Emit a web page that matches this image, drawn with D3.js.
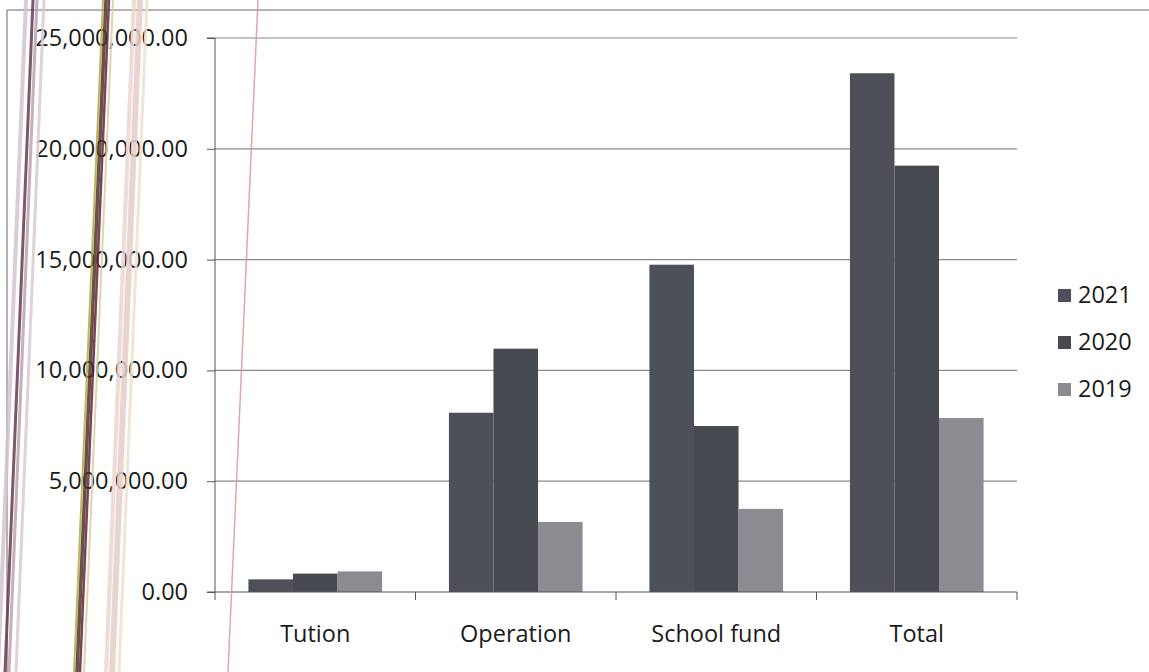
<!DOCTYPE html>
<html><head><meta charset="utf-8">
<script src="https://cdn.jsdelivr.net/npm/d3@7"></script>
<style>html,body{margin:0;padding:0;background:#fff;}svg{display:block;}</style>
</head><body>
<svg id="c" width="1149" height="672"></svg>
<script>
const categories = ["Tution", "Operation", "School fund", "Total"];
const series = ["2021", "2020", "2019"];
const values2021 = [570000, 8090000, 14770000, 23410000];
const values2020 = [830000, 10980000, 7490000, 19240000];
const values2019 = [930000, 3160000, 3750000, 7850000];
const yTicks = [0, 5000000, 10000000, 15000000, 20000000, 25000000];
const colors = ["#4d5058", "#474950", "#8b8c91"];

const svg = d3.select("#c");
const font = "'Open Sans', sans-serif";
const fs = 23.5;
const L = 215, R = 1017, T = 38, B = 592;

// scan frame
svg.append("line").attr("x1",7).attr("x2",1149).attr("y1",10).attr("y2",10).attr("stroke","#666").attr("stroke-width",1);
svg.append("line").attr("x1",7).attr("x2",7).attr("y1",10).attr("y2",672).attr("stroke","#666").attr("stroke-width",1);

const y = d3.scaleLinear().domain([0, 25000000]).range([B, T]);
const x0 = d3.scaleBand().domain(categories).range([L, R]).padding(0);
const x1 = d3.scaleBand().domain(series).range([0, x0.bandwidth()]).paddingInner(0).paddingOuter(0.75);

// gridlines
svg.append("g").selectAll("line").data(yTicks.filter(d=>d>0)).join("line")
  .attr("x1", L).attr("x2", R).attr("y1", d=>y(d)).attr("y2", d=>y(d))
  .attr("stroke", "#8a8a8a").attr("stroke-width", 1.2);

// y axis
const yAxis = d3.axisLeft(y).tickValues(yTicks).tickSize(8).tickPadding(19)
  .tickFormat(d => d3.format(",.2f")(d));
const gy = svg.append("g").attr("transform", `translate(${L},0)`).call(yAxis);
gy.select(".domain").attr("stroke", "#555").attr("d", `M-8,${T}H0V${B}`);
gy.selectAll(".tick line").attr("stroke", "#555");
gy.selectAll("text").attr("font-family", font).attr("font-size", fs).attr("fill", "#1a1a1a");

// bars
const data = [values2021, values2020, values2019];
categories.forEach((c, ci) => {
  series.forEach((s, si) => {
    const v = data[si][ci];
    svg.append("rect")
      .attr("x", x0(c) + x1(s)).attr("width", x1.bandwidth())
      .attr("y", y(v)).attr("height", y(0) - y(v))
      .attr("fill", colors[si]);
  });
});

// x axis
const xAxis = d3.axisBottom(x0).tickSize(0).tickPadding(33);
const gx = svg.append("g").attr("transform", `translate(0,${B})`).call(xAxis);
gx.select(".domain").attr("stroke", "#555").attr("d", `M${L-8},0H${R}`);
gx.selectAll("text").attr("font-family", font).attr("font-size", fs).attr("fill", "#1a1a1a");
const bounds = categories.map(c => x0(c)).concat([R]);
svg.append("g").selectAll("line").data(bounds).join("line")
  .attr("x1", d=>d).attr("x2", d=>d).attr("y1", B).attr("y2", B+8).attr("stroke", "#555");

// legend
const lg = svg.append("g").attr("transform", "translate(1058,295)");
series.forEach((s, i) => {
  const g = lg.append("g").attr("transform", `translate(0,${i*47})`);
  g.append("rect").attr("x", 0).attr("y", -6).attr("width", 13).attr("height", 13).attr("fill", colors[i]);
  g.append("text").attr("x", 20).attr("y", 0).attr("dy", "0.35em")
    .attr("font-family", font).attr("font-size", fs).attr("fill", "#1a1a1a").text(s);
});

// scanner streaks
const streaks = [
  [26,0,-2,672,"#d4c4d2",4],[33,0,5,672,"#6b3b52",3],[37,0,9,672,"#b9a4b0",3],[44,0,16,672,"#dccbd0",3],
  [103,0,74,672,"#b8a84a",2],[106,0,77,672,"#4a3a1e",3.5],[109,0,80,672,"#6a2040",2.5],[113,0,84,672,"#d6cfa0",2],
  [134,0,106,672,"#ecd6d4",4],[140,0,112,672,"#e6cdc8",6],[147,0,119,672,"#efe2cf",3],
  [258,0,228,672,"#d99a98",1.5]
];
svg.append("g").selectAll("line").data(streaks).join("line")
  .attr("x1", d=>d[0]).attr("y1", d=>d[1]).attr("x2", d=>d[2]).attr("y2", d=>d[3])
  .attr("stroke", d=>d[4]).attr("stroke-width", d=>d[5]).attr("opacity", 0.85);
</script>
</body></html>
